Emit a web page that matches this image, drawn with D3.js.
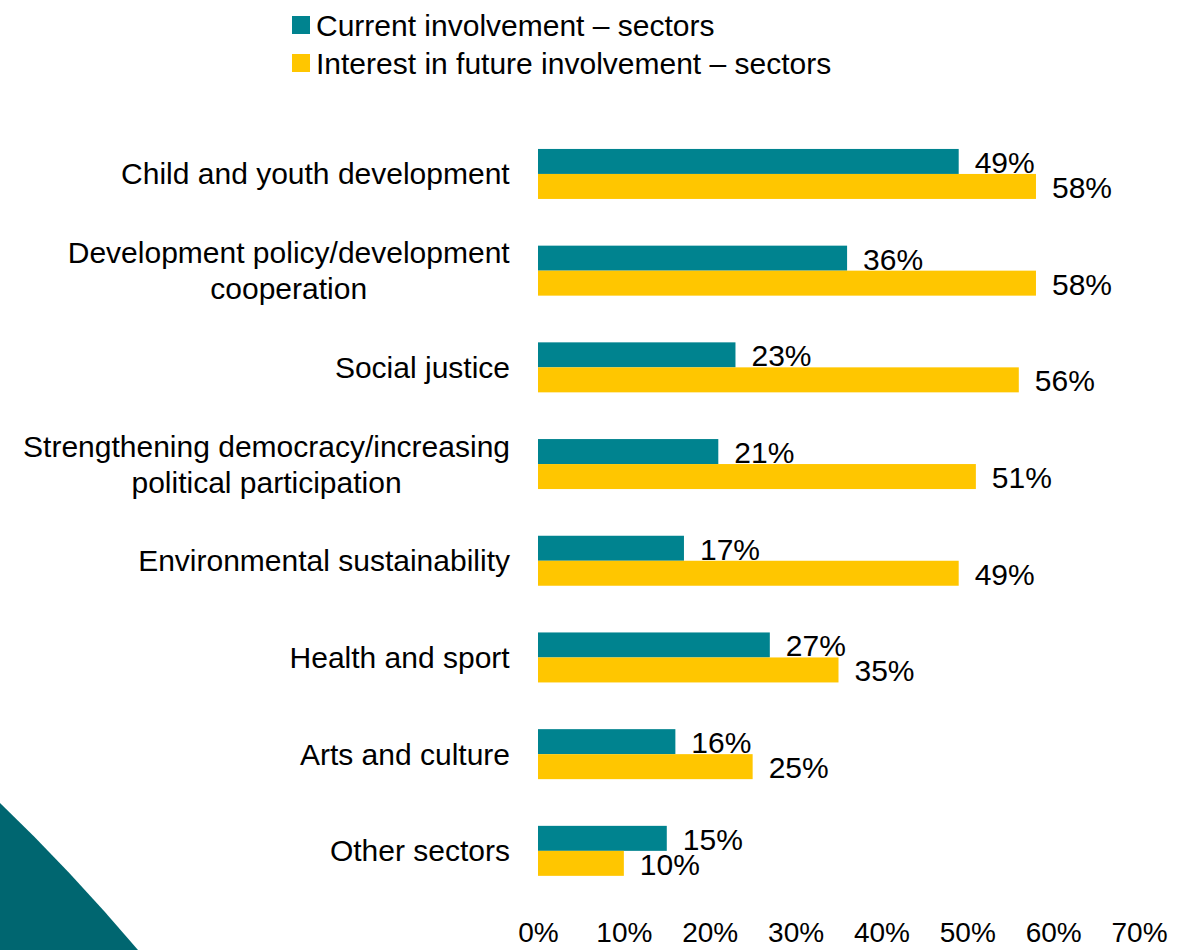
<!DOCTYPE html>
<html>
<head>
<meta charset="utf-8">
<title>Sector involvement</title>
<script src="https://cdn.jsdelivr.net/npm/d3@7"></script>
<style>
    body { margin: 0; background: #fff; }
    svg text { font-family: "Liberation Sans", Arial, sans-serif; fill: #000; }
    .axis path, .axis line { display: none; }
</style>
</head>
<body>
<script>
    // categories (top to bottom), each split into lines as on the slide
    var categories = [
        ["Child and youth development"],
        ["Development policy/development", "cooperation"],
        ["Social justice"],
        ["Strengthening democracy/increasing", "political participation"],
        ["Environmental sustainability"],
        ["Health and sport"],
        ["Arts and culture"],
        ["Other sectors"]
    ];
    var seriesNames = ["Current involvement \u2013 sectors", "Interest in future involvement \u2013 sectors"];
    var currentValues = [49, 36, 23, 21, 17, 27, 16, 15];
    var futureValues = [58, 58, 56, 51, 49, 35, 25, 10];
    var xTicks = [0, 10, 20, 30, 40, 50, 60, 70];

    var colors = ["#00838f", "#ffc600"];
    var width = 1183, height = 950, fontSize = 30;

    var svg = d3.select("body").append("svg")
        .attr("width", width)
        .attr("height", height);

    // decorative corner shape, bottom left
    svg.append("path")
        .attr("d", "M0,803 Q70,870 138,950 L0,950 Z")
        .attr("fill", "#006670");

    var keys = categories.map(function (c, i) { return "c" + i; });

    var x = d3.scaleLinear().domain([0, 70]).range([538, 1139]);

    var y = d3.scaleBand()
        .domain(keys)
        .range([125.6, 125.6 + 96.7 * 8])
        .paddingInner(0.483)
        .paddingOuter(0.2415);

    var ySub = d3.scaleBand()
        .domain([0, 1])
        .range([0, y.bandwidth()]);

    var rows = keys.map(function (k, i) {
        return {key: k, lines: categories[i], values: [currentValues[i], futureValues[i]]};
    });

    var groups = svg.selectAll("g.row")
        .data(rows)
        .enter().append("g")
        .attr("class", "row")
        .attr("transform", function (d) { return "translate(0," + y(d.key) + ")"; });

    groups.selectAll("rect")
        .data(function (d) { return d.values; })
        .enter().append("rect")
        .attr("x", x(0))
        .attr("y", function (d, i) { return ySub(i); })
        .attr("width", function (d) { return x(d) - x(0); })
        .attr("height", ySub.bandwidth())
        .attr("fill", function (d, i) { return colors[i]; });

    groups.selectAll("text.val")
        .data(function (d) { return d.values; })
        .enter().append("text")
        .attr("class", "val")
        .attr("x", function (d) { return x(d) + 16; })
        .attr("y", function (d, i) { return ySub(i) + ySub.bandwidth() - 1; })
        .style("font-size", fontSize + "px")
        .text(function (d) { return d + "%"; });

    // category labels: centred lines, block right-aligned against the axis
    groups.each(function (d) {
        var g = d3.select(this);
        var lh = 36;
        var t = g.append("text")
            .attr("text-anchor", "middle")
            .style("font-size", fontSize + "px");
        d.lines.forEach(function (line, j) {
            t.append("tspan")
                .attr("x", 0)
                .attr("y", y.bandwidth() / 2 + (j - (d.lines.length - 1) / 2) * lh)
                .attr("dy", "0.35em")
                .text(line);
        });
        var w = t.node().getBBox().width;
        t.attr("transform", "translate(" + (510 - w / 2) + ",0)");
    });

    var xAxis = d3.axisBottom(x)
        .tickValues(xTicks)
        .tickSize(0)
        .tickPadding(0)
        .tickFormat(function (d) { return d + "%"; });

    svg.append("g")
        .attr("class", "axis")
        .attr("transform", "translate(0,922)")
        .call(xAxis)
        .selectAll("text")
        .style("font-size", "28px")
        .style("font-family", "'Liberation Sans', Arial, sans-serif")
        .attr("fill", "#000");

    // legend
    var legend = svg.append("g")
        .selectAll("g")
        .data(seriesNames)
        .enter().append("g")
        .attr("transform", function (d, i) { return "translate(292," + (16 + i * 38) + ")"; });

    legend.append("rect")
        .attr("width", 18)
        .attr("height", 18)
        .attr("fill", function (d, i) { return colors[i]; });

    legend.append("text")
        .attr("x", 24)
        .attr("y", 9)
        .attr("dy", "0.35em")
        .style("font-size", fontSize + "px")
        .text(function (d) { return d; });
</script>
</body>
</html>
